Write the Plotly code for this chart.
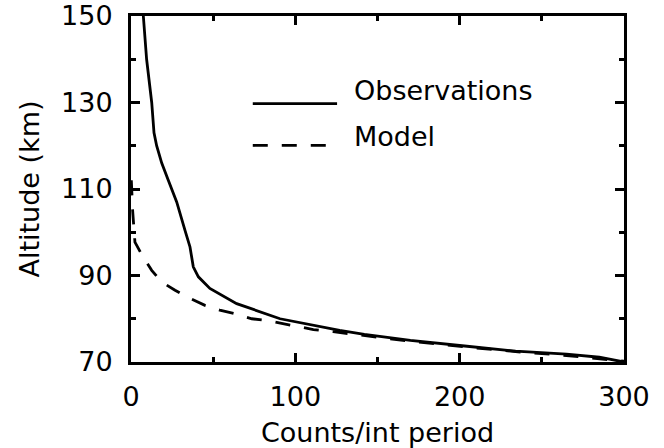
import plotly.graph_objects as go

# Observed count profile (counts per integration period vs altitude)
obs_counts = [7.5, 9.5, 12.6, 14, 15.6, 18.7, 22.7, 27.8, 32.9, 35.9, 37.9, 41,
              48, 64.3, 90.7, 115, 127, 142, 170, 203, 234, 265, 285, 300]
obs_alt = [150, 140, 130, 123, 120, 116, 112, 107, 100.4, 96.6, 92, 89.7,
           87, 83.5, 80, 78.1, 77.3, 76.4, 75, 73.7, 72.5, 71.8, 71.1, 70]

# Model count profile
model_counts = [0.2, 1, 2.4, 7.3, 12.6, 18.7, 26.8, 35.9, 45, 54, 63, 73.5,
                82.6, 91.7, 103, 111, 123, 142, 170, 203, 234, 265, 300]
model_alt = [112, 105, 97.7, 94.3, 91.2, 88.5, 86.6, 84.7, 83.1, 82, 81.2, 80,
             79.6, 78.9, 78.1, 77.5, 77.0, 76.1, 74.8, 73.5, 72.4, 71.5, 70.2]

series_names = ["Observations", "Model"]
x_ticks = [0, 100, 200, 300]
y_ticks = [70, 90, 110, 130, 150]

FONT = "DejaVu Sans"
FS = 27
DASH = "15px,14px"

fig = go.Figure()
fig.add_trace(go.Scatter(x=obs_counts, y=obs_alt, mode="lines",
                         line=dict(color="black", width=2.8),
                         name=series_names[0], showlegend=False))
fig.add_trace(go.Scatter(x=model_counts, y=model_alt, mode="lines",
                         line=dict(color="black", width=2.8, dash=DASH),
                         name=series_names[1], showlegend=False))

axis_common = dict(
    showline=True, linewidth=3, linecolor="black", mirror="allticks",
    ticks="inside", ticklen=9, tickwidth=2.5, tickcolor="black",
    showgrid=False, zeroline=False, automargin=False,
    tickfont=dict(family=FONT, size=FS, color="black"),
)

fig.update_xaxes(
    range=[0, 300], tickvals=x_ticks, ticklabelstandoff=9,
    minor=dict(ticks="inside", ticklen=5, tickwidth=2.5, tickcolor="black",
               tickvals=[50, 150, 250], showgrid=False),
    title=dict(text="Counts/int period", standoff=12,
               font=dict(family=FONT, size=FS, color="black")),
    **axis_common,
)
fig.update_yaxes(
    range=[70, 150], tickvals=y_ticks, ticklabelstandoff=10,
    minor=dict(ticks="inside", ticklen=5, tickwidth=2.5, tickcolor="black",
               tickvals=[80, 100, 120, 140], showgrid=False),
    title=dict(text="Altitude (km)", standoff=14,
               font=dict(family=FONT, size=FS, color="black")),
    **axis_common,
)

# Hand-drawn key inside the plot area
key_x0, key_x1, key_text_x = 0.247, 0.418, 0.448
key_rows = [(0.747, 0.785, "solid"), (0.626, 0.652, DASH)]
for (ly, ty, dash), name in zip(key_rows, series_names):
    fig.add_shape(type="line", xref="paper", yref="paper",
                  x0=key_x0, x1=key_x1, y0=ly, y1=ly,
                  line=dict(color="black", width=2.8, dash=dash))
    fig.add_annotation(xref="paper", yref="paper", x=key_text_x, y=ty,
                       xanchor="left", yanchor="middle", showarrow=False,
                       text=name, font=dict(family=FONT, size=FS, color="black"))

fig.update_layout(
    width=664, height=448,
    margin=dict(l=131, r=40, t=16, b=86, autoexpand=False),
    paper_bgcolor="white", plot_bgcolor="white",
    font=dict(family=FONT, size=FS, color="black"),
)

fig.write_html("out.html")
